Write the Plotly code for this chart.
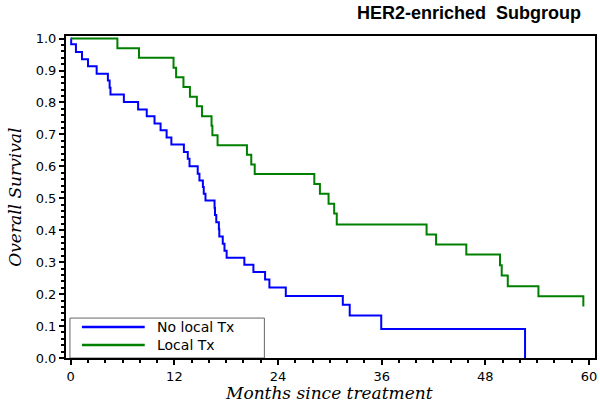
import plotly.graph_objects as go

# Kaplan-Meier step data
no_local_months = [0, 0.05, 0.6, 1.3, 2.0, 3.0, 4.3, 4.5, 4.6, 6.15, 7.8, 8.8, 9.7, 10.4, 11.1, 11.65,
                   13.1, 13.55, 13.75, 14.7, 14.9, 15.3, 15.4, 15.6, 16.65, 16.7, 16.85, 17.15, 17.2,
                   17.6, 17.8, 18.05, 20.1, 21.15, 22.5, 23.0, 24.9, 31.5, 32.3, 35.95, 52.6]
no_local_surv = [1.0, 0.982, 0.958, 0.935, 0.913, 0.890, 0.869, 0.846, 0.825, 0.801, 0.778, 0.757, 0.734,
                 0.713, 0.690, 0.668, 0.645, 0.624, 0.600, 0.577, 0.556, 0.535, 0.514, 0.493, 0.470,
                 0.448, 0.425, 0.403, 0.380, 0.358, 0.336, 0.314, 0.292, 0.269, 0.246, 0.221, 0.194,
                 0.167, 0.133, 0.091, 0.0]

local_months = [0, 5.4, 7.9, 11.9, 12.2, 13.05, 13.8, 14.6, 15.2, 16.3, 16.4, 17.0, 20.4, 20.9, 21.3,
                28.2, 28.85, 29.85, 30.5, 30.8, 41.2, 42.3, 45.8, 49.7, 49.9, 50.6, 54.15, 59.35]
local_surv = [1.0, 0.970, 0.940, 0.909, 0.879, 0.848, 0.818, 0.788, 0.757, 0.727, 0.697, 0.666, 0.636,
              0.606, 0.576, 0.545, 0.514, 0.483, 0.452, 0.418, 0.387, 0.355, 0.324, 0.290, 0.258,
              0.225, 0.193, 0.161]

series_names = ["No local Tx", "Local Tx"]
series_colors = ["#0000ff", "#008000"]

x_ticks = [0, 12, 24, 36, 48, 60]
x_tick_labels = ["0", "12", "24", "36", "48", "60"]

fig = go.Figure()
fig.add_trace(go.Scatter(x=no_local_months, y=no_local_surv, mode="lines", name=series_names[0],
                         line=dict(color=series_colors[0], width=2, shape="hv")))
fig.add_trace(go.Scatter(x=local_months, y=local_surv, mode="lines", name=series_names[1],
                         line=dict(color=series_colors[1], width=2, shape="hv")))

# Legend drawn as a box with line samples and labels (bottom-left, like the reference)
legend_rows_y = [0.0963, 0.0404]
shapes = [dict(type="rect", xref="paper", yref="paper", x0=0.0075, x1=0.375, y0=0.0, y1=0.124,
               line=dict(color="#666666", width=1), fillcolor="white", layer="below")]
for color, ly in zip(series_colors, legend_rows_y):
    shapes.append(dict(type="line", xref="paper", yref="paper", x0=0.0301, x1=0.1488, y0=ly, y1=ly,
                       line=dict(color=color, width=2.5)))
annotations = [dict(text="<br>".join(series_names), xref="paper", yref="paper",
                    x=0.1695, y=0.0683, xanchor="left", yanchor="middle", align="left",
                    showarrow=False, borderpad=0,
                    font=dict(family="DejaVu Sans", size=14, color="black"))]

annotations += [
    dict(text="<b>HER2-enriched\u00a0 Subgroup</b>", xref="paper", yref="paper",
         x=0.977, y=1.0714, xanchor="right", yanchor="middle", showarrow=False,
         font=dict(family="Liberation Sans", size=18, color="black")),
    dict(text="<i>Months since treatment</i>", xref="paper", yref="paper",
         x=0.497, y=-0.108, xanchor="center", yanchor="middle", showarrow=False,
         font=dict(family="DejaVu Serif", size=17, color="black")),
    dict(text="<i>Overall Survival</i>", xref="paper", yref="paper",
         x=-0.097, y=0.5, xanchor="center", yanchor="middle", showarrow=False,
         textangle=-90, font=dict(family="DejaVu Serif", size=17, color="black")),
]

tick_font = dict(family="DejaVu Sans", size=13, color="black")
fig.update_layout(
    width=600, height=402,
    margin=dict(l=66, r=3, t=36, b=44),
    paper_bgcolor="white", plot_bgcolor="white",
    showlegend=False,
    shapes=shapes,
    annotations=annotations,
    xaxis=dict(range=[-0.55, 60.7], tickvals=x_ticks, ticktext=x_tick_labels,
               ticks="outside", ticklen=5, tickwidth=1.5, tickcolor="black",
               showline=True, linecolor="black", linewidth=2, mirror=True,
               showgrid=False, zeroline=False, tickfont=tick_font,
               minor=dict(dtick=2, ticks="outside", ticklen=3, tickcolor="black", showgrid=False)),
    yaxis=dict(range=[0, 1.008], dtick=0.1, tick0=0, tickformat=".1f",
               ticks="outside", ticklen=5, tickwidth=1.5, tickcolor="black",
               showline=True, linecolor="black", linewidth=2, mirror=True,
               showgrid=False, zeroline=False, tickfont=tick_font,
               minor=dict(dtick=0.02, ticks="outside", ticklen=3, tickcolor="black", showgrid=False)),
)

fig.write_html("out.html", config={"displayModeBar": False},
               post_script="document.body.style.margin='0px';")
